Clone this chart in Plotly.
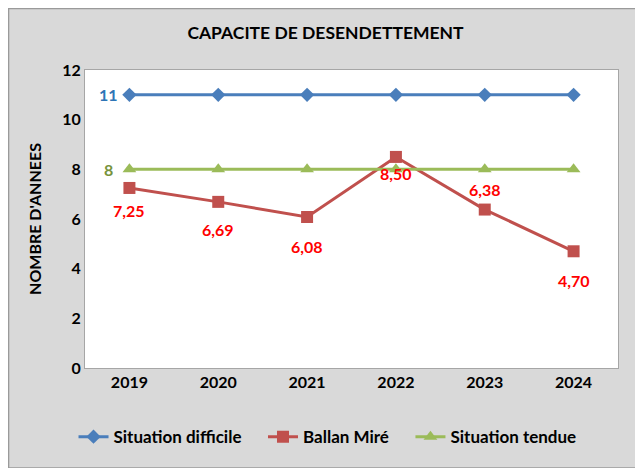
import plotly.graph_objects as go

years = ["2019", "2020", "2021", "2022", "2023", "2024"]
situation_difficile = [11, 11, 11, 11, 11, 11]
ballan_mire = [7.25, 6.69, 6.08, 8.50, 6.38, 4.70]
situation_tendue = [8, 8, 8, 8, 8, 8]

FONT = "Lato"
W, H = 635, 460
ML, MR, MT, MB = 77, 25, 62, 100
PAD = "\u00a0" * 4  # extra spacing between legend entries


def fr(v):
    return f"{v:.2f}".replace(".", ",")


fig = go.Figure()

fig.add_trace(go.Scatter(
    x=years, y=situation_difficile, name="Situation difficile" + PAD,
    mode="lines+markers",
    line=dict(color="#4A7EBB", width=3),
    marker=dict(symbol="diamond", size=11, color="#4A7EBB"),
))
fig.add_trace(go.Scatter(
    x=years, y=ballan_mire, name="Ballan Miré" + PAD,
    mode="lines+markers",
    line=dict(color="#C0504D", width=3),
    marker=dict(symbol="square", size=12, color="#C0504D"),
))
fig.add_trace(go.Scatter(
    x=years, y=situation_tendue, name="Situation tendue",
    mode="lines+markers",
    line=dict(color="#9BBB59", width=3),
    marker=dict(symbol="triangle-up", size=12, color="#9BBB59"),
))

# data labels (category axis -> position by index)
lab_font = dict(size=16, family=FONT, weight="bold")
fig.add_annotation(x=0, y=situation_difficile[0], text=str(situation_difficile[0]),
                   showarrow=False, xshift=-21, font=dict(color="#2E75B6", **lab_font))
fig.add_annotation(x=0, y=situation_tendue[0], text=str(situation_tendue[0]),
                   showarrow=False, xshift=-21, font=dict(color="#77933C", **lab_font))
ballan_shift = [-23, -28, -29, -17, 20, -29]
for i, (v, s) in enumerate(zip(ballan_mire, ballan_shift)):
    fig.add_annotation(x=i, y=v, text=fr(v), showarrow=False, yshift=s,
                       font=dict(color="#FF0000", **lab_font))

# frame border of the chart area
pw, ph = W - ML - MR, H - MT - MB
fig.add_shape(type="rect", xref="paper", yref="paper",
              x0=-ML / pw + 0.001, x1=(W - ML) / pw, y0=-MB / ph, y1=(H - MB) / ph - 0.002,
              fillcolor="rgba(0,0,0,0)", line=dict(color="#9A9A9A", width=1.5))

fig.update_layout(
    width=W, height=H,
    margin=dict(l=ML, r=MR, t=MT, b=MB),
    paper_bgcolor="#D9D9D9",
    plot_bgcolor="white",
    font=dict(family=FONT, color="black"),
    title=dict(text="<b>CAPACITE DE DESENDETTEMENT</b>", x=0.5, xanchor="center",
               y=0.946, yanchor="middle", font=dict(size=17.5, family=FONT)),
    showlegend=True,
    legend=dict(orientation="h", x=0.455, xanchor="center", y=-0.232, yanchor="middle",
                font=dict(size=17, family=FONT, weight="bold"),
                bgcolor="rgba(0,0,0,0)", itemwidth=30, tracegroupgap=0),
)

fig.update_xaxes(
    type="category", range=[-0.5, 5.5],
    showgrid=False, showline=True, linecolor="#A6A6A6", mirror=True,
    ticks="", tickfont=dict(size=16, family=FONT, weight="bold"),
)
fig.update_yaxes(
    range=[0, 12], dtick=2, showgrid=False, zeroline=False,
    showline=True, linecolor="#A6A6A6", mirror=True, ticks="",
    tickfont=dict(size=16, family=FONT, weight="bold"),
    title=dict(text="<b>NOMBRE D'ANNEES</b>", font=dict(size=16, family=FONT), standoff=16),
    automargin=False,
)

fig.write_html("out.html")
